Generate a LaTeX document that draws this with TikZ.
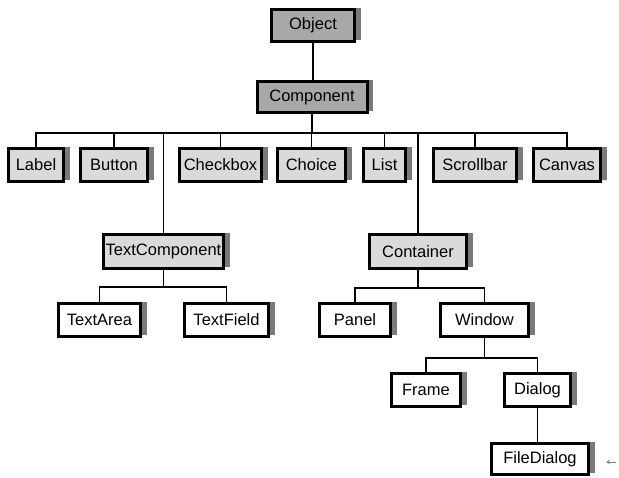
\documentclass[tikz,border=0pt]{standalone}
\usepackage{fontspec}
\setmainfont{Liberation Sans}
\usetikzlibrary{shadows,arrows.meta}
\definecolor{rootfill}{HTML}{A8A8A8}
\definecolor{midfill}{HTML}{DADADA}
\definecolor{shadowgray}{HTML}{7A7A7A}
\tikzset{
  x=1pt, y=-1pt,
  cls/.style={draw=black, line width=3pt, inner sep=0pt, font=\fontsize{16.5}{17}\selectfont,
    general shadow={fill=shadowgray, shadow xshift=6pt, shadow yshift=2pt}},
  rootbox/.style={cls, fill=rootfill},
  midbox/.style={cls, fill=midfill},
  leafbox/.style={cls, fill=white},
  link/.style={draw=black, line width=1.2pt},
}
\newcommand{\cbox}[6]{% style, name, x, y, width, height, text
  \node[#1, minimum width=#5pt, minimum height=#6pt] (#2) at (#3,#4)}
\begin{document}
\begin{tikzpicture}
\useasboundingbox (0,0) rectangle (619,477);

% class boxes
\cbox{rootbox}{obj}{313}{25.5}{83}{32} {Object};
\cbox{rootbox}{comp}{312}{97}{110}{31} {Component};

\cbox{midbox}{label}{36}{165}{55}{33} {Label};
\cbox{midbox}{button}{114}{165}{67}{33} {Button};
\cbox{midbox}{checkbox}{220.5}{165}{82}{33} {Checkbox};
\cbox{midbox}{choice}{311.5}{165}{68}{33} {Choice};
\cbox{midbox}{list}{384.5}{165}{42}{33} {List};
\cbox{midbox}{scrollbar}{475}{165}{83}{33} {Scrollbar};
\cbox{midbox}{canvas}{567}{165}{67}{33} {Canvas};

\cbox{midbox}{textcomp}{163.5}{251.5}{120}{34} {TextComponent};
\cbox{midbox}{container}{418}{251.5}{97}{34} {Container};

\cbox{leafbox}{textarea}{99.5}{320}{82}{33} {TextArea};
\cbox{leafbox}{textfield}{226.5}{320}{84}{33} {TextField};
\cbox{leafbox}{panel}{355}{320}{71}{33} {Panel};
\cbox{leafbox}{window}{484.5}{320}{88}{33} {Window};

\cbox{leafbox}{frame}{426}{390}{69}{33} {Frame};
\cbox{leafbox}{dialog}{537.5}{390}{66}{33} {Dialog};

\cbox{leafbox}{filedialog}{540}{459}{97}{31} {FileDialog};

% bus lines of the hierarchy
\coordinate (busA) at (313,133);
\coordinate (busB) at (165,287);
\coordinate (busC) at (421,288);
\coordinate (busD) at (485,358);

% Object -> Component
\draw[link] (obj.south) -- (obj.south |- comp.north);

% Component -> its subclasses
\draw[link] (comp.south) -- (comp.south |- busA);
\draw[link] (label.north) |- (busA) -| (canvas.north);
\foreach \n in {button,checkbox,choice,list,scrollbar,textcomp,container}
  \draw[link] (\n.north) -- (\n.north |- busA);

% TextComponent -> TextArea, TextField
\draw[link] (textcomp.south) -- (textcomp.south |- busB);
\draw[link] (textarea.north) |- (busB) -| (textfield.north);

% Container -> Panel, Window
\draw[link] (container.south) -- (container.south |- busC);
\draw[link] (panel.north) |- (busC) -| (window.north);

% Window -> Frame, Dialog
\draw[link] (window.south) -- (window.south |- busD);
\draw[link] (frame.north) |- (busD) -| (dialog.north);

% Dialog -> FileDialog
\draw[link] (dialog.south) -- (dialog.south |- filedialog.north);

% small cursor mark at the lower right
\coordinate (markA) at (616,462);
\coordinate (markB) at (606,462);
\draw[gray, line width=1pt, -{Stealth[length=4pt,width=4pt]}] (markA) -- (markB);
\end{tikzpicture}
\end{document}
